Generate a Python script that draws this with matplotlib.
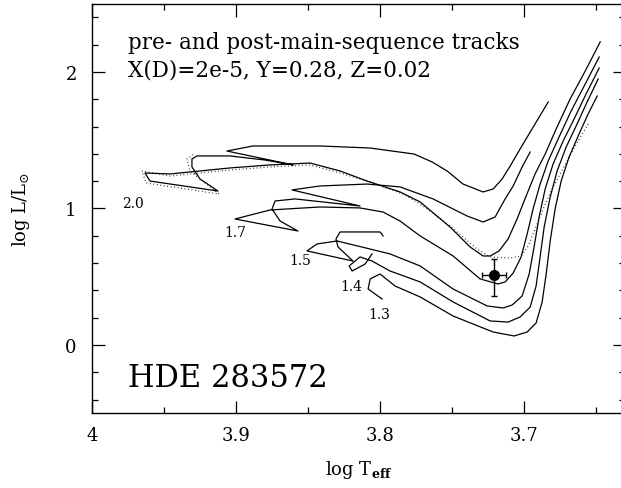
import numpy as np
import matplotlib
matplotlib.use('Agg')
import matplotlib.pyplot as plt
from matplotlib.ticker import MultipleLocator, FuncFormatter

plt.rcParams['font.family'] = ['DejaVu Serif']
plt.rcParams['mathtext.fontset'] = 'dejavuserif'

# evolutionary tracks (log Teff, log L/Lsun)
t20 = [3.6472, 3.6576, 3.6681, 3.6778, 3.6854, 3.6924, 3.6986, 3.7049, 3.7111, 3.7174,
       3.7236, 3.7285,
       3.7375, 3.7514, 3.7722, 3.7861, 3.8090, 3.8278, 3.8486, 3.8764, 3.9042, 3.9250,
       3.9458, 3.9632, 3.9597, 3.9125, 3.9250, 3.9306, 3.9306, 3.9271, 3.9042, 3.8799,
       3.8604, 3.9063, 3.8882, 3.8417, 3.8069, 3.7764, 3.7639, 3.7535, 3.7424, 3.7285,
       3.7215, 3.7153, 3.7097, 3.7028, 3.6958, 3.6833]
l20 = [2.220, 2.007, 1.802, 1.582, 1.399, 1.253, 1.092, 0.923, 0.777, 0.689,
       0.652, 0.652,
       0.718, 0.864, 1.048, 1.121, 1.201, 1.275, 1.333, 1.319, 1.297, 1.275,
       1.253, 1.260, 1.201, 1.128, 1.216, 1.304, 1.363, 1.385, 1.385, 1.355,
       1.319, 1.421, 1.458, 1.458, 1.443, 1.399, 1.341, 1.275, 1.179, 1.121,
       1.143, 1.216, 1.311, 1.436, 1.560, 1.780]

t20d = [3.6556, 3.6625, 3.6694, 3.6750, 3.6806, 3.6868, 3.6924, 3.6972, 3.7021, 3.7097,
        3.7236,
        3.7326, 3.7514, 3.7701, 3.7840, 3.8049, 3.8278, 3.8486, 3.8764, 3.9042, 3.9458,
        3.9653, 3.9625, 3.9118, 3.9319, 3.9340, 3.9292]
l20d = [1.619, 1.495, 1.363, 1.253, 1.143, 0.996, 0.850, 0.725, 0.652, 0.637,
        0.645,
        0.703, 0.872, 1.018, 1.106, 1.187, 1.260, 1.319, 1.304, 1.282, 1.238,
        1.275, 1.187, 1.106, 1.275, 1.363, 1.399]

t17 = [3.6479, 3.6576, 3.6674, 3.6764, 3.6833, 3.6889, 3.6938, 3.6979, 3.7021, 3.7076,
       3.7132, 3.7181,
       3.7306, 3.7493, 3.7722, 3.7861, 3.7979, 3.8139, 3.8417, 3.8764, 3.9007, 3.8570,
       3.8694, 3.8750, 3.8729, 3.8590, 3.8139, 3.8611, 3.8417, 3.8090, 3.7861, 3.7632,
       3.7396, 3.7285, 3.7201, 3.7132, 3.7076, 3.7014, 3.6958]
l17 = [2.110, 1.912, 1.714, 1.509, 1.348, 1.179, 0.996, 0.813, 0.645, 0.527,
       0.462, 0.447,
       0.484, 0.652, 0.799, 0.908, 0.974, 1.004, 1.011, 0.989, 0.923, 0.835,
       0.908, 0.996, 1.055, 1.070, 1.018, 1.136, 1.165, 1.179, 1.158, 1.070,
       0.945, 0.901, 0.938, 1.070, 1.165, 1.304, 1.414]

t15 = [3.6479, 3.6570, 3.6653, 3.6729, 3.6799, 3.6854, 3.6896, 3.6931, 3.6965, 3.7014,
       3.7083, 3.7146,
       3.7257, 3.7493, 3.7722, 3.7931, 3.8069, 3.8299, 3.8438, 3.8507, 3.8188, 3.8292,
       3.8306, 3.8278, 3.8000, 3.7979]
l15 = [2.029, 1.839, 1.656, 1.495, 1.326, 1.143, 0.938, 0.718, 0.520, 0.359,
       0.293, 0.271,
       0.286, 0.410, 0.579, 0.667, 0.703, 0.762, 0.740, 0.689, 0.615, 0.718,
       0.777, 0.828, 0.828, 0.799]

t14 = [3.6486, 3.6563, 3.6639, 3.6708, 3.6771, 3.6819, 3.6861, 3.6889, 3.6917, 3.6958,
       3.7028, 3.7111,
       3.7236, 3.7493, 3.7722, 3.7931, 3.8056, 3.8139, 3.8215, 3.8194, 3.8104, 3.8056]
l14 = [1.949, 1.780, 1.604, 1.451, 1.275, 1.084, 0.864, 0.645, 0.432, 0.278,
       0.205, 0.168,
       0.176, 0.315, 0.462, 0.542, 0.615, 0.645, 0.579, 0.542, 0.593, 0.667]

t13 = [3.6493, 3.6556, 3.6625, 3.6688, 3.6743, 3.6785, 3.6819, 3.6847, 3.6875, 3.6917,
       3.6979, 3.7070,
       3.7215, 3.7493, 3.7722, 3.7896, 3.8000, 3.8069, 3.8083, 3.8035, 3.7986]
l13 = [1.824, 1.692, 1.531, 1.377, 1.201, 0.996, 0.762, 0.520, 0.315, 0.161,
       0.095, 0.066,
       0.095, 0.212, 0.352, 0.432, 0.520, 0.484, 0.410, 0.374, 0.337]

masses = ['2.0', '1.7', '1.5', '1.4', '1.3']
lab_t = [3.9715, 3.9007, 3.8556, 3.8201, 3.8007]
lab_l = [1.04, 0.828, 0.623, 0.432, 0.227]

# HDE 283572
star_t, star_terr = 3.7209, 0.0081
star_l = 0.515
star_lerr = [[0.154], [0.115]]

fig = plt.figure(figsize=(6.21, 4.89), dpi=100)
ax = fig.add_axes([0.1481, 0.1529, 0.8583, 0.8374])

for t, l in [(t20, l20), (t17, l17), (t15, l15), (t14, l14), (t13, l13)]:
    ax.plot(t, l, color='black', lw=0.9)
ax.plot(t20d, l20d, color='black', lw=0.9, ls=(0, (0.6, 2.2)))

for m, x, y in zip(masses, lab_t, lab_l):
    ax.text(x, y, m, fontsize=10, ha='center', va='center')

ax.errorbar([star_t], [star_l], xerr=star_terr, yerr=star_lerr, fmt='o',
            color='black', ms=7, elinewidth=1.0, capsize=2.5)

ax.text(3.975, 2.22, 'pre- and post-main-sequence tracks', fontsize=15.5, va='center')
ax.text(3.975, 2.02, 'X(D)=2e-5, Y=0.28, Z=0.02', fontsize=15.5, va='center')
ax.text(3.975, -0.235, 'HDE 283572', fontsize=22, va='center')

ax.set_xlim(4.0, 3.63)
ax.set_ylim(-0.5, 2.5)
ax.xaxis.set_major_locator(MultipleLocator(0.1))
ax.xaxis.set_minor_locator(MultipleLocator(0.05))
ax.yaxis.set_major_locator(MultipleLocator(1))
ax.yaxis.set_minor_locator(MultipleLocator(0.2))
ax.xaxis.set_major_formatter(FuncFormatter(lambda v, p: '%g' % round(v, 2)))
ax.yaxis.set_major_formatter(FuncFormatter(lambda v, p: '%g' % round(v, 2)))
ax.tick_params(which='both', direction='in', top=True, right=True, labelsize=13, width=0.9)
ax.tick_params(axis='x', which='major', length=9, pad=9)
ax.tick_params(axis='y', which='major', length=9, pad=11)
ax.tick_params(which='minor', length=4.5)
for s in ax.spines.values():
    s.set_linewidth(1.0)

ax.set_xlabel(r'log T$_{\mathbf{eff}}$', fontsize=13, labelpad=10)
ax.set_ylabel(r'log L/L$_{\odot}$', fontsize=13, labelpad=24)

fig.savefig('out.png', dpi=100)
